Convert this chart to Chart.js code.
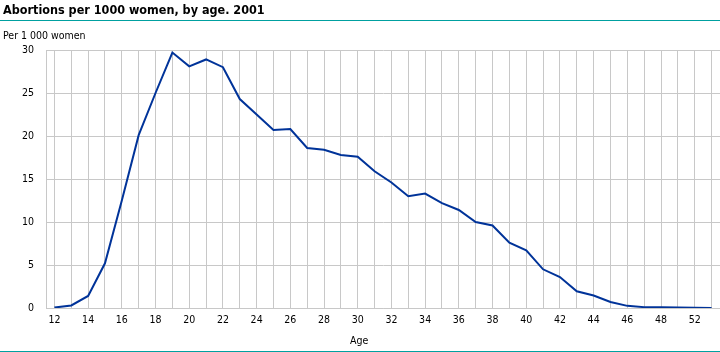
<!DOCTYPE html>
<html>
<head>
<meta charset="utf-8">
<title>Abortions per 1000 women, by age. 2001</title>
<script src="https://cdn.jsdelivr.net/npm/chart.js@4.4.1/dist/chart.umd.min.js"></script>
<style>
  body { margin: 0; background: #fff; }
  #wrap { position: relative; width: 720px; height: 352px; overflow: hidden;
          font-family: "DejaVu Sans Condensed", "DejaVu Sans", sans-serif; color: #000; }
  #title { position: absolute; left: 3px; top: 2px; font-size: 12.5px; font-weight: bold; white-space: nowrap; }
  .rule { position: absolute; left: 0; width: 720px; height: 1px; background: #00a0a0; }
  #unit { position: absolute; left: 3px; top: 29px; font-size: 10.5px; white-space: nowrap; }
  #xtitle { position: absolute; left: 350px; top: 334px; font-size: 10.5px; }
  canvas { position: absolute; left: 0; top: 0; }
</style>
</head>
<body>
<div id="wrap">
  <canvas id="abortionChart" width="720" height="352"></canvas>
  <div id="title">Abortions per 1000 women, by age. 2001</div>
  <div class="rule" style="top:20px"></div>
  <div id="unit">Per 1 000 women</div>
  <div id="xtitle">Age</div>
  <div class="rule" style="top:351px"></div>
</div>
<script>
// Ages (categories) and rate per 1 000 women
var ages = ['12', '13', '14', '15', '16', '17', '18', '19', '20', '21',
            '22', '23', '24', '25', '26', '27', '28', '29', '30', '31',
            '32', '33', '34', '35', '36', '37', '38', '39', '40', '41',
            '42', '43', '44', '45', '46', '47', '48', '49', '52', '53'];
var rates = [0.05, 0.3, 1.4, 5.2, 12.5, 20.1, 25.0, 29.7, 28.1, 28.9,
             28.0, 24.3, 22.5, 20.7, 20.8, 18.6, 18.4, 17.8, 17.6, 15.9,
             14.6, 13.0, 13.3, 12.2, 11.4, 10.0, 9.6, 7.6, 6.7, 4.5,
             3.6, 1.95, 1.45, 0.7, 0.25, 0.1, 0.1, 0.05, 0.02, 0.01];
var yTicks = [0, 5, 10, 15, 20, 25, 30];

document.addEventListener('DOMContentLoaded', function () {
    var gridColor = '#c8c8c8';
    var tickFont = { family: '"DejaVu Sans Condensed", "DejaVu Sans", sans-serif', size: 10.5 };

    var ctx = document.getElementById('abortionChart').getContext('2d');
    new Chart(ctx, {
        type: 'line',
        data: {
            labels: ages,
            datasets: [{
                data: rates,
                borderColor: '#003399',
                borderWidth: 2,
                pointRadius: 0,
                tension: 0,
                fill: false
            }]
        },
        options: {
            responsive: false,
            animation: false,
            layout: { padding: { top: 50, left: 0, right: 0, bottom: 0 } },
            plugins: { legend: { display: false }, tooltip: { enabled: false } },
            scales: {
                x: {
                    type: 'category',
                    offset: true,
                    grid: { offset: false, color: gridColor, drawTicks: false },
                    border: { display: true, color: gridColor },
                    ticks: {
                        autoSkip: false, maxRotation: 0, padding: 6,
                        color: '#000', font: tickFont,
                        callback: function (v, i) { return i % 2 === 0 ? ages[i] : ''; }
                    },
                    afterFit: function (scale) { scale.height = 44; }
                },
                y: {
                    min: yTicks[0],
                    max: yTicks[yTicks.length - 1],
                    grid: { color: gridColor, drawTicks: false },
                    border: { display: true, color: gridColor },
                    ticks: { stepSize: 5, padding: 12, color: '#000', font: tickFont },
                    afterBuildTicks: function (scale) {
                        scale.ticks = yTicks.map(function (v) { return { value: v }; });
                    },
                    afterFit: function (scale) { scale.width = 46; }
                }
            }
        }
    });
});
</script>
</body>
</html>
